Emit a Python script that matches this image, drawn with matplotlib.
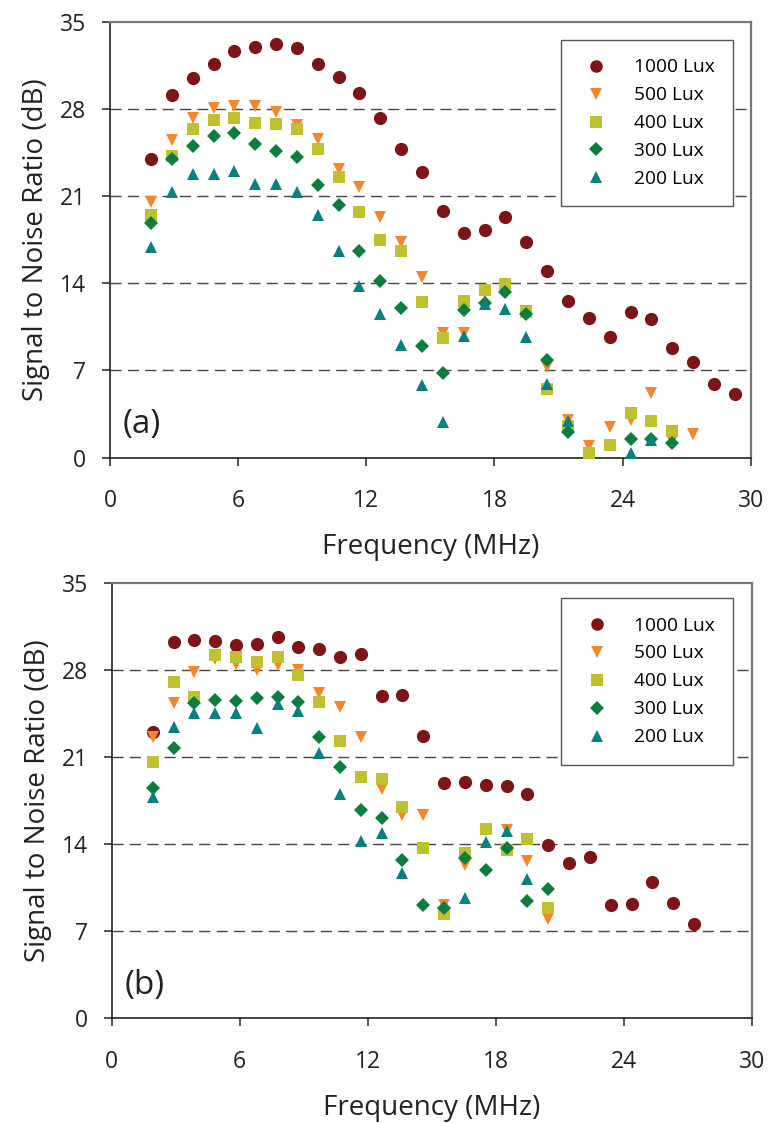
import numpy as np
import matplotlib
matplotlib.use("Agg")
import matplotlib.pyplot as plt

plt.rcParams['font.family'] = ['Open Sans', 'DejaVu Sans']

nan = np.nan

# frequency of each measurement point (MHz)
freq = [1.92, 2.90, 3.87, 4.85, 5.82, 6.80, 7.78, 8.75, 9.73, 10.70,
        11.68, 12.66, 13.63, 14.61, 15.58, 16.56, 17.54, 18.51, 19.49, 20.46,
        21.44, 22.42, 23.39, 24.37, 25.34, 26.32, 27.30, 28.27, 29.25]

labels = ["1000 Lux", "500 Lux", "400 Lux", "300 Lux", "200 Lux"]

# panel (a)
a_1000 = [24.0, 29.1, 30.5, 31.6, 32.65, 32.95, 33.2, 32.9, 31.6, 30.56,
          29.3, 27.3, 24.8, 22.9, 19.8, 18.06, 18.25, 19.34, 17.3, 14.98,
          12.57, 11.23, 9.7, 11.66, 11.12, 8.8, 7.7, 5.88, 5.07]
a_500 = [20.5, 25.5, 27.25, 28.1, 28.2, 28.2, 27.75, 26.7, 25.6, 23.2,
         21.7, 19.3, 17.3, 14.5, 9.97, 10.0, 13.2, 13.7, 11.8, 7.3,
         3.0, 0.92, 2.47, 3.0, 5.2, 1.35, 1.9, nan, nan]
a_400 = [19.5, 24.2, 26.4, 27.15, 27.3, 26.9, 26.8, 26.4, 24.75, 22.5,
         19.7, 17.5, 16.6, 12.5, 9.6, 12.57, 13.45, 13.9, 11.7, 5.48,
         2.5, 0.4, 1.0, 3.6, 2.96, 2.15, nan, nan, nan]
a_300 = [18.8, 24.0, 25.0, 25.8, 26.1, 25.15, 24.6, 24.1, 21.9, 20.3,
         16.58, 14.18, 11.98, 8.96, 6.76, 11.85, 12.4, 13.27, 11.5, 7.83,
         2.07, nan, nan, 1.46, 1.46, 1.19, nan, nan, nan]
a_200 = [16.9, 21.35, 22.8, 22.8, 23.0, 22.0, 22.0, 21.3, 19.5, 16.6,
         13.78, 11.5, 9.04, 5.82, 2.88, 9.76, 12.3, 11.95, 9.65, 5.9,
         2.9, nan, nan, 0.39, 1.4, nan, nan, nan, nan]

# panel (b)
b_1000 = [23.0, 30.25, 30.4, 30.3, 29.98, 30.1, 30.6, 29.8, 29.67, 29.0,
          29.3, 25.9, 25.97, 22.67, 18.9, 19.0, 18.74, 18.66, 18.0, 13.9,
          12.5, 12.98, 9.1, 9.18, 10.95, 9.3, 7.57, nan, nan]
b_500 = [22.6, 25.3, 27.85, 28.9, 28.5, 28.0, 28.4, 27.97, 26.1, 25.0,
         22.6, 18.4, 16.3, 16.3, 9.1, 12.3, 15.1, 15.1, 12.66, 7.98,
         nan, nan, nan, nan, nan, nan, nan, nan, nan]
b_400 = [20.6, 27.0, 25.8, 29.2, 29.0, 28.65, 29.0, 27.6, 25.4, 22.27,
         19.4, 19.2, 17.0, 13.7, 8.38, 13.25, 15.17, 13.5, 14.38, 8.83,
         nan, nan, nan, nan, nan, nan, nan, nan, nan]
b_300 = [18.47, 21.7, 25.3, 25.6, 25.5, 25.7, 25.8, 25.4, 22.57, 20.16,
         16.7, 16.06, 12.7, 9.1, 8.9, 12.9, 11.9, 13.7, 9.42, 10.36,
         nan, nan, nan, nan, nan, nan, nan, nan, nan]
b_200 = [17.8, 23.37, 24.5, 24.5, 24.55, 23.3, 25.25, 24.7, 21.33, 18.0,
         14.26, 14.9, 11.7, nan, nan, 9.64, 14.18, 15.07, 11.16, nan,
         nan, nan, nan, nan, nan, nan, nan, nan, nan]

colors = ["#7d1517", "#f7862a", "#bfc130", "#0b7e3e", "#087f80"]
markers = ["o", "v", "s", "D", "^"]
sizes = [9.5, 9.0, 8.6, 7.4, 9.0]


def draw_panel(ax, series, tag, leg_anchor):
    for y in [7, 14, 21, 28]:
        ax.axhline(y, color="#444444", lw=1.0, dashes=(8, 4.5), zorder=0)
    for vals, c, m, s, lab in zip(series, colors, markers, sizes, labels):
        ax.plot(freq, vals, ls="none", marker=m, ms=s, color=c,
                markeredgewidth=0, label=lab, zorder=3)
    ax.set_xlim(0, 30)
    ax.set_ylim(0, 35)
    ax.set_xticks(range(0, 31, 6))
    ax.set_yticks(range(0, 36, 7))
    ax.tick_params(direction="out", length=6, width=1.1, labelsize=16.5,
                   colors="#222222")
    ax.tick_params(axis="x", pad=17)
    ax.tick_params(axis="y", pad=11)
    for side in ["left", "bottom"]:
        ax.spines[side].set_color("#222222")
        ax.spines[side].set_linewidth(1.2)
    for side in ["top", "right"]:
        ax.spines[side].set_color("#777777")
        ax.spines[side].set_linewidth(1.6)
    ax.set_xlabel("Frequency (MHz)", fontsize=20, color="#222222", labelpad=14)
    ax.set_ylabel("Signal to Noise Ratio (dB)", fontsize=20, color="#222222",
                  labelpad=7)
    ax.text(0.02, 0.075, tag, transform=ax.transAxes, fontsize=24,
            va="center", ha="left", color="#222222")
    leg = ax.legend(loc="upper right", bbox_to_anchor=leg_anchor,
                    borderaxespad=0, fontsize=13.8, frameon=True,
                    fancybox=False, edgecolor="#555555", framealpha=1,
                    markerscale=0.95, handletextpad=1.05, labelspacing=0.52,
                    borderpad=0.95, handlelength=1.8)
    leg.get_frame().set_linewidth(1.0)


fig = plt.figure(figsize=(7.72, 11.23), dpi=100)
ax1 = fig.add_axes([0.1425, 0.5926, 0.830, 0.388])
ax2 = fig.add_axes([0.1447, 0.0932, 0.829, 0.388])

draw_panel(ax1, [a_1000, a_500, a_400, a_300, a_200], "(a)", (0.972, 0.958))
draw_panel(ax2, [b_1000, b_500, b_400, b_300, b_200], "(b)", (0.971, 0.964))

fig.savefig("out.png", dpi=100)
